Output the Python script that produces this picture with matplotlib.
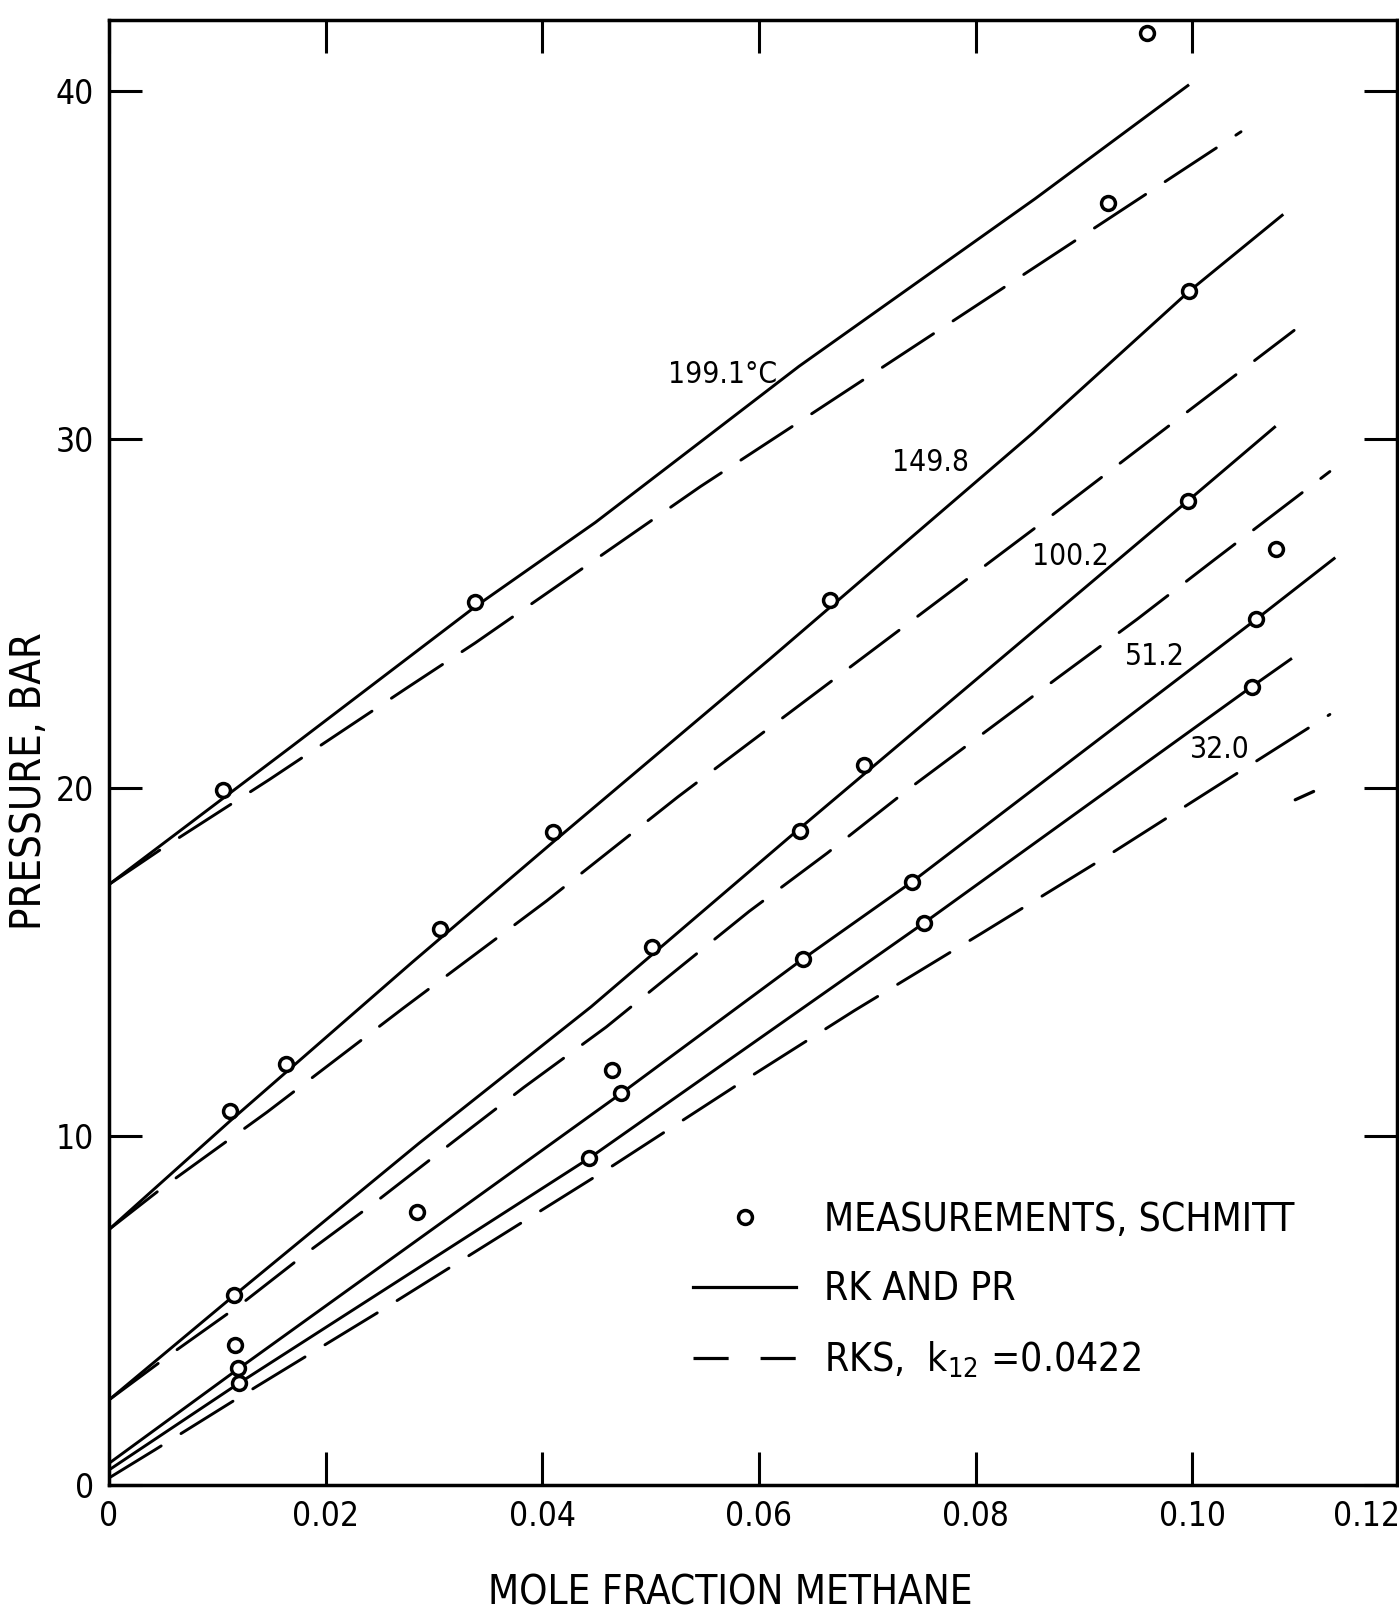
import matplotlib
matplotlib.use("Agg")
import matplotlib.pyplot as plt
from matplotlib.lines import Line2D

FONT = ['DejaVu Sans']
plt.rcParams['font.family'] = FONT
plt.rcParams['font.stretch'] = 'condensed'

# =============================================================================
# data (mole fraction methane, pressure in bar)
rk_199_x = [0.0, 0.0169, 0.0338, 0.0449, 0.0546, 0.0637, 0.0855, 0.0997]
rk_199_y = [17.23, 21.2, 25.2, 27.62, 29.93, 32.1, 36.91, 40.18]
rks_199_x = [0.0, 0.0049, 0.0148, 0.0274, 0.0338, 0.0546, 0.0637, 0.1045]
rks_199_y = [17.23, 18.26, 20.24, 22.85, 24.16, 28.65, 30.5, 38.83]

rk_150_x = [0.0, 0.0112, 0.028, 0.041, 0.061, 0.0853, 0.0997, 0.1084]
rk_150_y = [7.33, 10.45, 15.0, 18.45, 23.7, 30.19, 34.25, 36.46]
rks_150_x = [0.0, 0.0049, 0.0146, 0.0272, 0.0404, 0.0525, 0.0591, 0.0869, 0.0983, 0.1094]
rks_150_y = [7.33, 8.52, 10.7, 13.69, 16.76, 19.74, 21.29, 27.79, 30.5, 33.13]

rk_100_x = [0.0, 0.0116, 0.0286, 0.0445, 0.0635, 0.0996, 0.1077]
rk_100_y = [2.44, 5.45, 9.8, 13.72, 18.77, 28.24, 30.38]
rks_100_x = [0.0, 0.0056, 0.0122, 0.0183, 0.0247, 0.0317, 0.0383, 0.0459, 0.053,
             0.0591, 0.0663, 0.0739, 0.0877, 0.0949, 0.102, 0.1127]
rks_100_y = [2.44, 3.73, 5.19, 6.67, 8.14, 9.83, 11.41, 13.14, 14.93,
             16.46, 18.13, 19.99, 23.19, 24.84, 26.54, 29.08]

rk_51_x = [0.0, 0.0118, 0.0473, 0.064, 0.0741, 0.1059, 0.1132]
rk_51_y = [0.62, 3.3, 11.24, 15.08, 17.3, 24.84, 26.61]
rks_51_x = [0.0, 0.0042, 0.0136, 0.0252, 0.0358, 0.0466, 0.058, 0.0688,
            0.0805, 0.0919, 0.1018, 0.1127]
rks_51_y = [0.2, 1.0, 2.82, 5.02, 7.08, 9.18, 11.48, 13.61,
            15.82, 18.0, 19.96, 22.11]

rk_32_x = [0.0, 0.012, 0.0443, 0.0752, 0.1055, 0.1092]
rk_32_y = [0.43, 2.92, 9.37, 16.12, 22.91, 23.72]
rks_32_x = [0.1095, 0.1112]
rks_32_y = [19.66, 19.9]

# measurements, Schmitt
meas_x = [0.0105, 0.0338, 0.0922, 0.0958,
          0.0112, 0.0163, 0.0306, 0.041, 0.0666, 0.0997,
          0.0115, 0.0284, 0.0501, 0.0638, 0.0697, 0.0996, 0.1077,
          0.0116, 0.0119, 0.0464, 0.0473, 0.0641, 0.0741, 0.1059,
          0.012, 0.0443, 0.0752, 0.1055]
meas_y = [19.95, 25.34, 36.78, 41.65,
          10.72, 12.08, 15.95, 18.73, 25.38, 34.25,
          5.45, 7.84, 15.44, 18.77, 20.65, 28.24, 26.85,
          4.02, 3.35, 11.91, 11.24, 15.08, 17.3, 24.84,
          2.92, 9.37, 16.12, 22.91]

temp_labels = ['199.1°C', '149.8', '100.2', '51.2', '32.0']
temp_label_x = [0.0566, 0.0758, 0.0887, 0.0965, 0.1025]
temp_label_y = [31.85, 29.33, 26.63, 23.77, 21.1]

xticks = [0, 0.02, 0.04, 0.06, 0.08, 0.10]
xticklabels = ['0', '0.02', '0.04', '0.06', '0.08', '0.10']
yticks = [0, 10, 20, 30, 40]

# =============================================================================
fig = plt.figure(figsize=(13.99, 16.16), dpi=100)
ax = fig.add_axes([0.0779, 0.0811, 0.9207, 0.9066])

solid = dict(color='black', lw=2.1, solid_capstyle='butt')
dashed = dict(color='black', lw=2.1, linestyle=(0, (21, 8)), dash_capstyle='round')

for xs, ys in [(rk_199_x, rk_199_y), (rk_150_x, rk_150_y), (rk_100_x, rk_100_y),
               (rk_51_x, rk_51_y), (rk_32_x, rk_32_y)]:
    ax.plot(xs, ys, **solid)
for xs, ys in [(rks_199_x, rks_199_y), (rks_150_x, rks_150_y),
               (rks_100_x, rks_100_y), (rks_51_x, rks_51_y)]:
    ax.plot(xs, ys, **dashed)
ax.plot(rks_32_x, rks_32_y, color='black', lw=2.3, solid_capstyle='round')

ax.plot(meas_x, meas_y, 'o', ms=10, mew=2.5, mfc='white', mec='black', zorder=5)

for t, tx, ty in zip(temp_labels, temp_label_x, temp_label_y):
    ax.text(tx, ty, t, fontsize=21.5, ha='center', va='center')

ax.set_xlim(0, 0.1189)
ax.set_ylim(0, 42.04)
ax.set_xticks(xticks, labels=xticklabels)
ax.set_xticks([0.1161], labels=['0.12'], minor=True)
ax.set_yticks(yticks)
ax.tick_params(which='major', direction='in', length=24, width=2.2,
               top=True, right=True, labelsize=24, pad=11)
ax.tick_params(which='minor', length=0, labelsize=24, pad=11)
for s in ax.spines.values():
    s.set_linewidth(2.5)

ax.set_xlabel('MOLE FRACTION METHANE', fontsize=29)
ax.set_ylabel('PRESSURE, BAR', fontsize=30)
ax.xaxis.set_label_coords(0.482, -0.0605)
ax.yaxis.set_label_coords(-0.046, 0.4805)

handles = [
    Line2D([], [], marker='o', ls='none', ms=10, mew=2.5, mfc='white', mec='black'),
    Line2D([], [], color='black', lw=2.3),
    Line2D([], [], color='black', lw=2.3, linestyle=(0, (11, 10))),
]
labels = ['MEASUREMENTS, SCHMITT', 'RK AND PR', 'RKS,  k$_{12}$ =0.0422']
ax.legend(handles, labels, loc='upper left', bbox_to_anchor=(0.4534, 0.194), frameon=False,
          fontsize=28, handlelength=2.65, handletextpad=0.72, labelspacing=0.81,
          borderpad=0, borderaxespad=0)

fig.savefig('out.png', dpi=100)
